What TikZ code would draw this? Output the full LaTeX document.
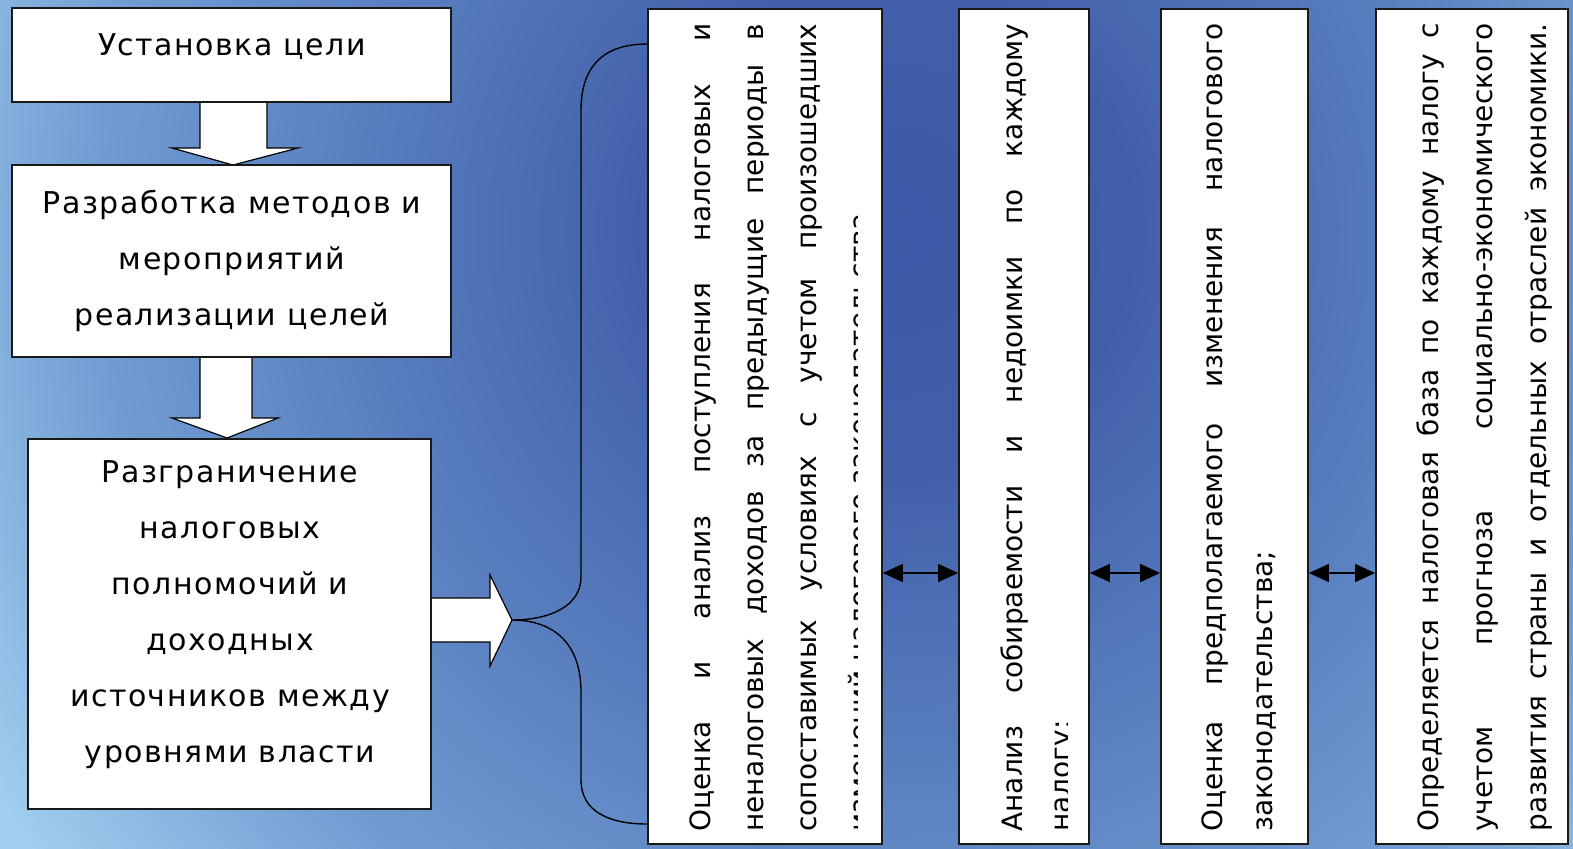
\documentclass[tikz,border=0pt]{standalone}
\usepackage{fontspec}
\setmainfont{DejaVu Sans}
\newfontfamily\lfont[LetterSpace=5]{DejaVu Sans}
\usetikzlibrary{arrows.meta,fit,calc}
\definecolor{bgA}{HTML}{3C58A6}
\definecolor{bgAA}{HTML}{4260AA}
\definecolor{bgB}{HTML}{5A80C0}
\definecolor{bgC}{HTML}{709CD2}
\definecolor{bgD}{HTML}{A0CEEE}
\pgfdeclareradialshading{bgshade}{\pgfpoint{0bp}{0bp}}{color(0bp)=(bgA); color(5.5bp)=(bgAA); color(12.5bp)=(bgB); color(18bp)=(bgC); color(24bp)=(bgD); color(50bp)=(bgD)}
\newcommand\jl[1]{\makebox[\linewidth][s]{#1}}
\begin{document}
\begin{tikzpicture}[x=0.5pt,y=-0.5pt,
  box/.style={draw=black!90, line width=0.9pt, fill=white, inner sep=0pt, rectangle},
  blk/.style={draw=black, line width=0.6pt, fill=white},
  brace/.style={draw=black, line width=0.7pt},
  dbl/.style={draw=black, line width=0.8pt, {Triangle[length=10pt,width=9pt]}-{Triangle[length=10pt,width=9pt]}},
  ltext/.style={inner sep=0pt, anchor=base},
  rtext/.style={inner sep=0pt, anchor=base west, rotate=90},
]
\useasboundingbox (0,0) rectangle (1573,848);
\begin{scope}
  \clip (0,0) rectangle (1573,848);
  \shade[shading=bgshade] (890,230) circle (1100);
\end{scope}

% block arrows
\draw[blk] (200,100) -- (200,148) -- (172,148) -- (233,165) -- (298,148) -- (267,148) -- (267,100) -- cycle;
\draw[blk] (200,356) -- (200,418) -- (172,418) -- (227,438) -- (278,418) -- (252,418) -- (252,356) -- cycle;
\draw[blk] (431,598) -- (490,598) -- (490,575) -- (512,620) -- (490,666) -- (490,642) -- (431,642) -- cycle;

% boxes
\node[box, fit={(12,8) (451,102)}] (b1) {};
\node[box, fit={(12,165) (451,357)}] (b2) {};
\node[box, fit={(28,439) (431,809)}] (b3) {};
\node[box, fit={(648,9) (882,844)}] (b4) {};
\node[box, fit={(959,9) (1089,844)}] (b5) {};
\node[box, fit={(1161,9) (1308,844)}] (b6) {};
\node[box, fit={(1376,9) (1568,844)}] (b7) {};

% left texts
\node[ltext] (t1) at (232,55) {\lfont\fontsize{15}{28}\selectfont Установка цели};
\node[ltext] (t2) at (232,213) {\parbox[t]{215pt}{\centering\lfont\fontsize{15}{28}\selectfont Разработка методов и\\мероприятий\\реализации целей}};
\node[ltext] (t3) at (230,482) {\parbox[t]{200pt}{\centering\lfont\fontsize{15}{28}\selectfont Разграничение\\налоговых\\полномочий и\\доходных\\источников между\\уровнями власти}};

% rotated texts
\begin{scope}
  \clip (648,9) rectangle (857,844);
  \node[rtext] (t4) at (710,832) {\parbox[t]{404pt}{\fontsize{14}{26.5}\selectfont
    \jl{Оценка и анализ поступления налоговых и}\\
    \jl{неналоговых доходов за предыдущие периоды в}\\
    \jl{сопоставимых условиях с учетом произошедших}\\
    изменений налогового законодательства}};
\end{scope}
\begin{scope}
  \clip (959,9) rectangle (1067,844);
  \node[rtext] (t5) at (1022,832) {\parbox[t]{404pt}{\fontsize{14}{24}\selectfont
    \jl{Анализ собираемости и недоимки по каждому}\\
    налогу;}};
\end{scope}
\node[rtext] (t6) at (1222,832) {\parbox[t]{404pt}{\fontsize{14}{25}\selectfont
    \jl{Оценка предполагаемого изменения налогового}\\
    законодательства;}};
\node[rtext] (t7) at (1438,832) {\parbox[t]{404pt}{\fontsize{14}{27.2}\selectfont
    \jl{Определяется налоговая база по каждому налогу с}\\
    \jl{учетом прогноза социально-экономического}\\
    \jl{развития страны и отдельных отраслей экономики.}}};

% brace
\coordinate (yA) at (0,44);
\coordinate (yB) at (0,824);
\coordinate (bt) at (512,620);
\draw[brace] (b4.west |- yA) .. controls (600,44) and (581,70) .. (581,110) -- (581,577)
  .. controls (581,606) and (550,620) .. (bt)
  .. controls (550,620) and (581,640) .. (581,692) -- (581,780)
  .. controls (581,812) and (610,824) .. (b4.west |- yB);

% double arrows
\coordinate (ay) at (0,573);
\draw[dbl] (b4.east |- ay) -- (b5.west |- ay);
\draw[dbl] (b5.east |- ay) -- (b6.west |- ay);
\draw[dbl] (b6.east |- ay) -- (b7.west |- ay);
\end{tikzpicture}
\end{document}
